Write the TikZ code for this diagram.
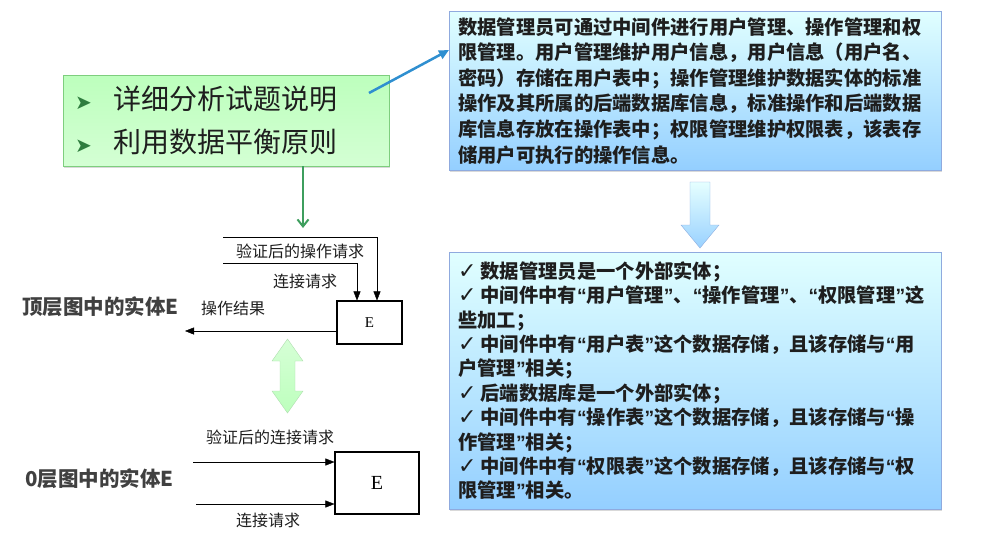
\documentclass[tikz,border=0pt]{standalone}
\usepackage{fontspec}
\setmainfont{Liberation Serif}
\newfontfamily\cjk{Noto Sans CJK SC}
\newfontfamily\sym{DejaVu Sans}
\newfontfamily\qfont{Liberation Sans}
\usetikzlibrary{arrows.meta,calc,positioning,shadows}
\definecolor{gline}{HTML}{3E9E5E}
\definecolor{gdark}{HTML}{2E7D3E}
\definecolor{bline}{HTML}{2F8FD0}
\definecolor{ink}{HTML}{1E1E1E}
\newcommand\hitem[1]{\makebox[38pt][l]{\sym\fontsize{20}{20}\selectfont\color{gdark}➤}#1}
\newcommand\tick{{\sym\mdseries\fontsize{22}{18}\selectfont ✓}\hspace{4pt}}
\newcommand\oq{{\qfont“}}
\newcommand\cq{{\qfont”}}
\tikzset{pin/.style={-{Triangle[length=9pt,width=7pt]}},
  ent/.style={draw, line width=1.1pt, font=\rmfamily\fontsize{15}{15}\selectfont},
  lbl/.style={font=\cjk\fontsize{16}{16}\selectfont, text=ink, inner sep=0pt},
  lvl/.style={font=\cjk\bfseries\fontsize{20.5}{20.5}\selectfont, text=black!75, inner sep=0pt, anchor=west},
  gbox/.style={draw=green!45!gray!70, top color=green!26!white, bottom color=green!17!white,
    drop shadow={shadow xshift=1pt, shadow yshift=-2pt, opacity=.3}, align=left,
    inner xsep=12pt, font=\cjk\fontsize{28}{43}\selectfont, text=ink},
  bbox/.style={draw=cyan!45!blue!45, top color=cyan!12!white, bottom color=cyan!55!blue!42,
    drop shadow={shadow xshift=1pt, shadow yshift=-2pt, opacity=.3}, align=left,
    inner xsep=9pt, text width=474pt, anchor=north west, text=ink},
  barrow/.style={draw=cyan!50!blue!45, top color=cyan!10!white, bottom color=cyan!55!blue!40},
  garrow/.style={draw=green!40!gray!45, top color=green!16!white, bottom color=green!26!white}}

\begin{document}
\begin{tikzpicture}[x=1pt, y=-1pt, font=\cjk]
  \useasboundingbox (0,0) rectangle (995,550);
  % hint box and the two text boxes
  \node[gbox, anchor=north west, text width=302pt, minimum height=91pt] (hint) at (63,75)
    {\hitem{详细分析试题说明}\\\hitem{利用数据平衡原则}};
  \node[bbox, minimum height=159pt, font=\cjk\bfseries\fontsize{19.3}{25.6}\selectfont] (spec) at (449,11)
    {数据管理员可通过中间件进行用户管理、操作管理和权\\
     限管理。用户管理维护用户信息，用户信息（用户名、\\
     密码）存储在用户表中；操作管理维护数据实体的标准\\
     操作及其所属的后端数据库信息，标准操作和后端数据\\
     库信息存放在操作表中；权限管理维护权限表，该表存\\
     储用户可执行的操作信息。};
  \node[bbox, minimum height=257pt, font=\cjk\bfseries\fontsize{19.3}{24.4}\selectfont] (res) at (449,252)
    {\tick 数据管理员是一个外部实体；\\
     \tick 中间件中有\oq 用户管理\cq、\oq 操作管理\cq、\oq 权限管理\cq 这\\
     些加工；\\
     \tick 中间件中有\oq 用户表\cq 这个数据存储，且该存储与\oq 用\\
     户管理\cq 相关；\\
     \tick 后端数据库是一个外部实体；\\
     \tick 中间件中有\oq 操作表\cq 这个数据存储，且该存储与\oq 操\\
     作管理\cq 相关；\\
     \tick 中间件中有\oq 权限表\cq 这个数据存储，且该存储与\oq 权\\
     限管理\cq 相关。};
  % arrows between boxes
  \coordinate (hintout) at (369,93);
  \draw[bline, line width=2.5pt, -{Triangle[length=10pt,width=9pt]}] (hintout) -- (spec.north west |- 0,50);
  \coordinate (down) at (303,228);
  \draw[gline, line width=2pt, -{Straight Barb[length=7pt,width=11pt]}] (hint.south -| down) -- (down);
  \path[barrow] (690,182) -- (710,182) -- (710,225) -- (719,225) -- (700,248)
    -- (681,225) -- (690,225) -- cycle;
  % top level entity
  \node[lvl] (top) at (22,307) {顶层图中的实体E};
  \node[ent, minimum width=65pt, minimum height=43pt] (e1) at (369.5,322.5) {E};
  \coordinate (op) at (223,237);
  \coordinate (cn) at (223,263);
  \coordinate (res1) at (185,331);
  \draw[pin] (op) -| ($(e1.north)+(7.5,0)$);
  \draw[pin] (cn) -| ($(e1.north)+(-12.5,0)$);
  \draw[pin] ($(e1.west)+(0,8.5)$) -- (res1);
  \node[lbl] at (300,251) {验证后的操作请求};
  \node[lbl] at (305,281) {连接请求};
  \node[lbl] at (233,308) {操作结果};
  % equivalence
  \path[garrow] (287.5,339) -- (303,361) -- (295,361) -- (295,391) -- (303,391) -- (287.5,413)
    -- (272,391) -- (280,391) -- (280,361) -- (272,361) -- cycle;
  % level 0 entity
  \node[lvl] (zero) at (25,479) {0层图中的实体E};
  \node[ent, minimum width=84pt, minimum height=62pt, font=\rmfamily\fontsize{20}{20}\selectfont] (e2) at (377,483) {E};
  \coordinate (vc) at (193,462);
  \coordinate (cc) at (196,504);
  \draw[pin] (vc) -- (vc -| e2.west);
  \draw[pin] (cc) -- (cc -| e2.west);
  \node[lbl] at (270,437) {验证后的连接请求};
  \node[lbl] at (268,520) {连接请求};
\end{tikzpicture}
\end{document}
